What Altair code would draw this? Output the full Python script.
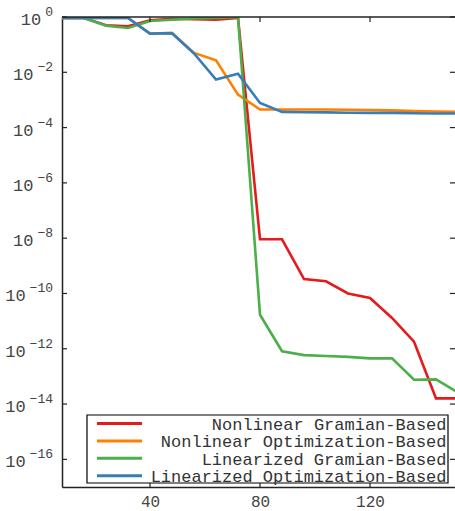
import altair as alt
import pandas as pd

# Iteration counts (x) and residual error for each reduction method (y, log scale)
steps = [8, 16, 24, 32, 40, 48, 56, 64, 72, 80, 88, 96, 104, 112, 120, 128, 136, 144, 152]

nonlinear_gramian = [0.92, 0.92, 0.50, 0.46, 0.76, 0.86, 0.83, 0.80, 0.93,
                     9.1e-9, 9.1e-9, 3.3e-10, 2.75e-10, 1.0e-10, 6.9e-11,
                     1.3e-11, 1.8e-12, 1.6e-14, 1.6e-14]
nonlinear_optimization = [0.92, 0.92, 0.92, 0.92, 0.25, 0.26, 0.050, 0.027, 1.55e-3,
                          4.5e-4, 4.5e-4, 4.5e-4, 4.5e-4, 4.4e-4, 4.3e-4,
                          4.2e-4, 4.0e-4, 3.8e-4, 3.7e-4]
linearized_gramian = [0.92, 0.92, 0.48, 0.40, 0.72, 0.80, 0.89, 0.93, 0.98,
                      1.7e-11, 8.1e-13, 5.9e-13, 5.5e-13, 5.1e-13, 4.5e-13,
                      4.5e-13, 7.6e-14, 7.8e-14, 2.6e-14]
linearized_optimization = [0.92, 0.92, 0.92, 0.92, 0.25, 0.26, 0.048, 5.5e-3, 8.9e-3,
                           7.8e-4, 3.7e-4, 3.6e-4, 3.55e-4, 3.45e-4, 3.4e-4,
                           3.4e-4, 3.3e-4, 3.25e-4, 3.25e-4]

series_names = ["Nonlinear Gramian-Based", "Nonlinear Optimization-Based",
                "Linearized Gramian-Based", "Linearized Optimization-Based"]
series_values = [nonlinear_gramian, nonlinear_optimization,
                 linearized_gramian, linearized_optimization]
series_colors = ["#e41a1c", "#ff7f00", "#4daf4a", "#377eb8"]

x_ticks = [40, 80, 120]
y_ticks = [1e0, 1e-2, 1e-4, 1e-6, 1e-8, 1e-10, 1e-12, 1e-14, 1e-16]

W, H = 393, 470
FONT = "Liberation Mono, DejaVu Sans Mono, monospace"
SPINE = "#222222"
LABEL = "#444444"
BASE_SIZE, EXP_SIZE = 17, 13

x_scale = alt.Scale(domain=[8, 150.9], nice=False, zero=False)
y_scale = alt.Scale(type="log", domain=[1e-17, 1], nice=False)

x_axis = alt.Axis(values=x_ticks, title=None, ticks=False, grid=False, labelPadding=6,
                  labelFont=FONT, labelFontSize=16, labelColor=LABEL,
                  domainColor=SPINE, domainWidth=1.5)
# y labels are drawn as text marks (base "10" plus raised exponent)
y_axis = alt.Axis(values=y_ticks, title=None, ticks=False, grid=False, labels=False,
                  domainColor=SPINE, domainWidth=1.5)

layers = []
for name, vals, col in zip(series_names, series_values, series_colors):
    df = pd.DataFrame({"step": steps, "err": vals, "method": name})
    layers.append(
        alt.Chart(df).mark_line(color=col, strokeWidth=2.6, clip=True).encode(
            x=alt.X("step:Q", scale=x_scale, axis=x_axis),
            y=alt.Y("err:Q", scale=y_scale, axis=y_axis),
        )
    )

# inward ticks on all four sides
xt = pd.DataFrame({"t": x_ticks})
yt = pd.DataFrame({"t": y_ticks})
tick_style = dict(color=SPINE, strokeWidth=1.2)
layers += [
    alt.Chart(xt).mark_rule(**tick_style).encode(
        x=alt.X("t:Q", scale=x_scale, axis=x_axis), y=alt.value(H), y2=alt.value(H - 5)),
    alt.Chart(xt).mark_rule(**tick_style).encode(
        x=alt.X("t:Q", scale=x_scale, axis=x_axis), y=alt.value(0), y2=alt.value(5)),
    alt.Chart(yt).mark_rule(**tick_style).encode(
        y=alt.Y("t:Q", scale=y_scale, axis=y_axis), x=alt.value(0), x2=alt.value(5)),
    alt.Chart(yt).mark_rule(**tick_style).encode(
        y=alt.Y("t:Q", scale=y_scale, axis=y_axis), x=alt.value(W), x2=alt.value(W - 5)),
]

# y tick labels: exponent right-aligned, "10" placed just before it
exp_width = 0.6 * EXP_SIZE
ylab = alt.Chart(yt).transform_calculate(
    e="round(-log(datum.t)/LN10)"
).transform_calculate(
    ex="datum.e > 0 ? '\u2212' + datum.e : '0'"
).transform_calculate(
    bx=f"-13 - {exp_width} * length(datum.ex)"
)
layers += [
    ylab.mark_text(align="right", baseline="alphabetic", font=FONT, fontSize=EXP_SIZE,
                   color=LABEL, dy=-1).encode(
        x=alt.value(-9), y=alt.Y("t:Q", scale=y_scale, axis=y_axis), text="ex:N"),
    ylab.mark_text(align="right", baseline="alphabetic", font=FONT, fontSize=BASE_SIZE,
                   color=LABEL, dy=8).encode(
        x=alt.X("bx:Q", scale=None), y=alt.Y("t:Q", scale=y_scale, axis=y_axis),
        text=alt.value("10")),
]

one = pd.DataFrame({"a": [0]})
# top spine
layers.append(alt.Chart(one).mark_rule(color=SPINE, strokeWidth=1.5).encode(
    x=alt.value(0), x2=alt.value(W), y=alt.value(0)))

# legend box in the lower right
layers.append(alt.Chart(one).mark_rect(fill="white", stroke="black", strokeWidth=1.2).encode(
    x=alt.value(25), x2=alt.value(386), y=alt.value(398), y2=alt.value(466)))
for i, (name, col) in enumerate(zip(series_names, series_colors)):
    row_y = 406.5 + 17.4 * i
    layers.append(alt.Chart(one).mark_rule(color=col, strokeWidth=3).encode(
        x=alt.value(35), x2=alt.value(80), y=alt.value(row_y)))
    layers.append(alt.Chart(one).mark_text(
        align="right", baseline="middle", font=FONT, fontSize=17, color="#333333").encode(
        x=alt.value(384.5), y=alt.value(row_y + 1.5), text=alt.value(name)))

chart = alt.layer(*layers).properties(
    width=W, height=H,
    autosize=alt.AutoSizeParams(type="none"),
    padding={"left": 62, "top": 17, "right": 0, "bottom": 24},
).configure_view(strokeWidth=0)

chart.save("out.html", embed_options={"renderer": "svg", "actions": False})
